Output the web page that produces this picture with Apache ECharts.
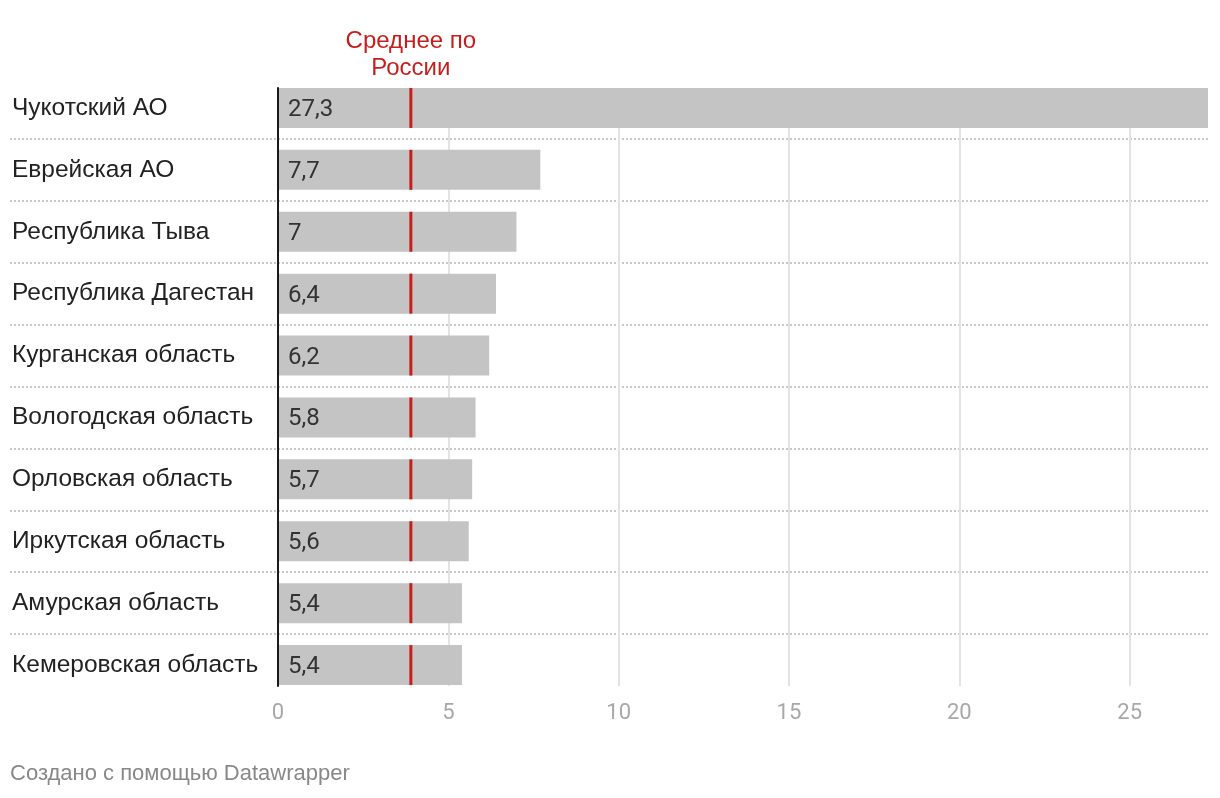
<!DOCTYPE html>
<html><head><meta charset="utf-8">
<script src="https://cdn.jsdelivr.net/npm/echarts@6/dist/echarts.min.js"></script>
<style>html,body{margin:0;padding:0;background:#fff}#c{width:1220px;height:798px}</style>
</head><body><div id="c"></div>
<script>
const categories = ['Чукотский АО','Еврейская АО','Республика Тыва','Республика Дагестан','Курганская область','Вологодская область','Орловская область','Иркутская область','Амурская область','Кемеровская область'];
const values = [27.3,7.7,7,6.4,6.2,5.8,5.7,5.6,5.4,5.4];
const russiaAverage = 3.9;
const xTicks = [0,5,10,15,20,25];
const averageLabel = 'Среднее по\nРоссии';
const footer = 'Создано с помощью Datawrapper';

const NUM_FONT = 'Roboto';
const TXT_FONT = '"Liberation Sans", Arial, Helvetica, sans-serif';
const XMAX = 27.3;
const chart = echarts.init(document.getElementById('c'));
chart.setOption({
  animation:false,
  textStyle:{fontFamily:NUM_FONT},
  grid:[
    {left:278,right:12,top:77,bottom:102},
    {left:278,right:12,top:88,bottom:112},
    {left:10,right:12,top:77,bottom:102}
  ],
  xAxis:[
    {gridIndex:0,type:'value',min:0,max:XMAX,show:false},
    {gridIndex:1,type:'value',min:0,max:XMAX,interval:5,
      axisLine:{show:false},axisTick:{show:false},
      splitLine:{show:true,showMaxLine:false,showMinLine:false,lineStyle:{color:'#e3e3e3',width:2}},
      axisLabel:{color:'#a8a8a8',fontSize:22,margin:16,showMaxLabel:false,fontFamily:NUM_FONT,
        formatter:v=>xTicks.includes(v)?String(v):''}},
    {gridIndex:2,type:'value',min:0,max:1,show:false}
  ],
  yAxis:[
    {gridIndex:0,type:'category',data:categories,inverse:true,
      axisLine:{show:false},axisTick:{show:false},splitLine:{show:false},
      axisLabel:{align:'left',margin:266,fontSize:24.5,color:'#222',fontFamily:TXT_FONT,padding:[4,0,0,0]}},
    {gridIndex:1,type:'value',min:0,max:1,
      axisLine:{show:true,lineStyle:{color:'#1a1a1a',width:2}},axisTick:{show:false},
      axisLabel:{show:false},splitLine:{show:false},z:5},
    {gridIndex:2,type:'category',data:categories,inverse:true,
      axisLine:{show:false},axisTick:{show:false},axisLabel:{show:false},
      splitLine:{show:true,showMinLine:false,showMaxLine:false,interval:0,lineStyle:{color:'#c8c8c8',width:2,type:[2,2]}}}
  ],
  series:[
    {type:'bar',xAxisIndex:0,yAxisIndex:0,data:values,barWidth:40,
      itemStyle:{color:'#c4c4c4'},z:3,
      label:{show:true,position:'insideLeft',distance:10,offset:[0,2],color:'#333',fontSize:24,fontFamily:NUM_FONT,
        formatter:p=>String(p.value).replace('.',',')}},
    {type:'scatter',xAxisIndex:0,yAxisIndex:0,
      data:categories.map(c=>[russiaAverage,c]),
      symbol:'rect',symbolSize:[3,40],itemStyle:{color:'#c71e1d',opacity:1},z:4,silent:true}
  ]
});
const ax = chart.convertToPixel({xAxisIndex:0},russiaAverage);
chart.setOption({
  graphic:[
    {type:'text',x:ax,y:28,style:{text:averageLabel,fill:'#c71e1d',font:'24px '+TXT_FONT,textAlign:'center',textVerticalAlign:'top',lineHeight:27}},
    {type:'text',x:10,y:763,style:{text:footer,fill:'#888',font:'22px '+TXT_FONT,textAlign:'left',textVerticalAlign:'top',lineHeight:22}}
  ]
});
</script></body></html>
